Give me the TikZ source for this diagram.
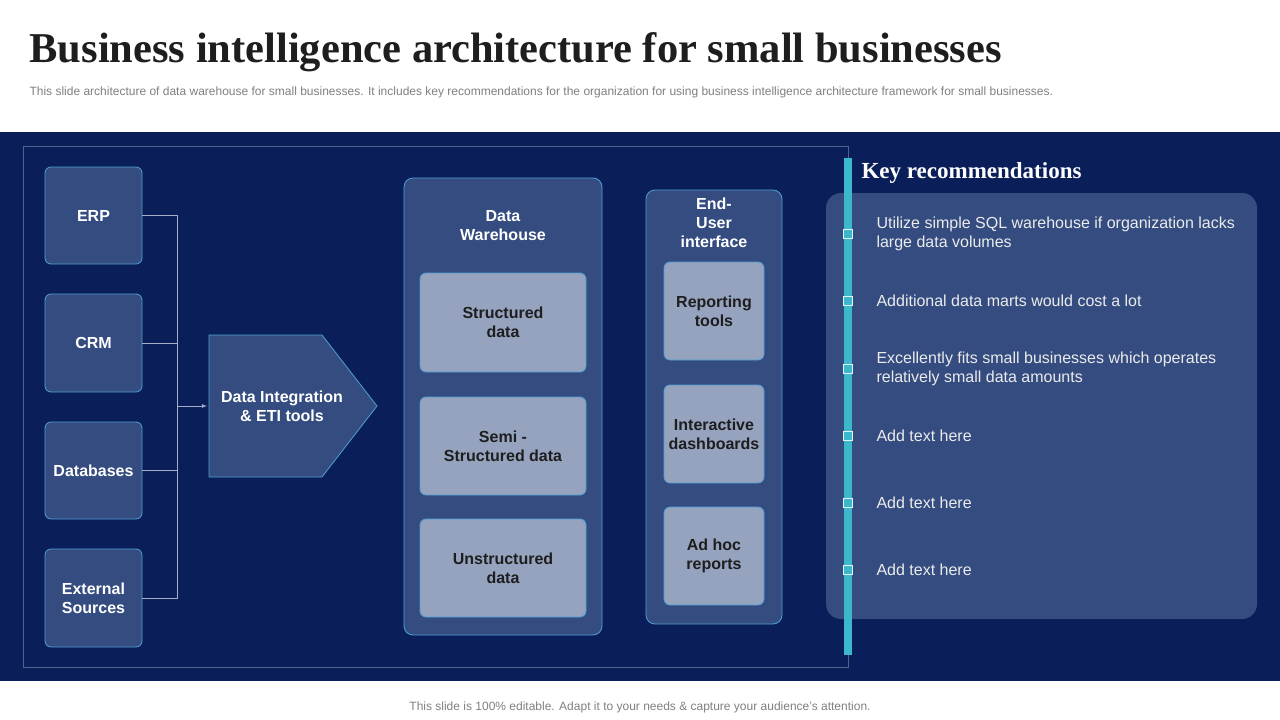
\documentclass[tikz,border=0pt]{standalone}
\usepackage{fontspec}
\setmainfont{Liberation Sans}
\newfontfamily\serifb{Liberation Serif}
\definecolor{bgdark}{HTML}{0A1F5A}
\definecolor{boxf}{HTML}{344C80}
\definecolor{innerf}{HTML}{95A3BF}
\definecolor{bordc}{HTML}{4E9FD3}
\definecolor{teal}{HTML}{3BB8CB}
\definecolor{txtd}{HTML}{1E1E1E}
\begin{document}
\begin{tikzpicture}[x=1pt,y=-1pt,
 src/.style={draw=bordc,fill=boxf,rounded corners=6pt,line width=0.8pt},
 inner/.style={draw=bordc,fill=innerf,rounded corners=6pt,line width=0.8pt},
 wt/.style={text=white,font=\bfseries\fontsize{16}{19}\selectfont,align=center},
 dt/.style={text=txtd,font=\bfseries\fontsize{16}{19}\selectfont,align=center},
 rt/.style={text=white!92!black,font=\fontsize{16}{19}\selectfont,align=left,anchor=west},
 lnk/.style={draw=white!55!boxf,line width=0.8pt},
 mk/.style={draw=white!85!teal,fill=teal,minimum size=9pt,inner sep=0pt,line width=0.8pt}]
\useasboundingbox (0,0) rectangle (1280,720);
\fill[white] (0,0) rectangle (1280,720);
\node[anchor=west,font=\serifb\bfseries\fontsize{42.5}{46}\selectfont,text=txtd] (title) at (26,52) {Business intelligence architecture for small businesses};
\node[anchor=west,font=\fontsize{12}{14}\selectfont,text=gray] (sub) at (26,92) {This slide architecture of data warehouse for small businesses. It includes key recommendations for the organization for using business intelligence architecture framework for small businesses.};
\fill[bgdark] (0,132) rectangle (1280,681);
\draw[draw=white!30!bgdark,line width=0.6pt] (23,146) rectangle (848,667);
% sources
\node[src,minimum width=97pt,minimum height=97pt] (erp) at (93.5,215.5) {};
\node[wt] at (erp) {ERP};
\node[src,minimum width=97pt,minimum height=98pt] (crm) at (93.5,343) {};
\node[wt] at (crm) {CRM};
\node[src,minimum width=97pt,minimum height=97pt] (db) at (93.5,470.5) {};
\node[wt] at (db) {Databases};
\node[src,minimum width=97pt,minimum height=98pt] (ext) at (93.5,598) {};
\node[wt] at (ext) {External\\Sources};
\coordinate (j) at (177,406);
\draw[lnk] (erp.east) -- ++(35,0) coordinate (t1) -- (t1 |- ext.east) -- (ext.east);
\draw[lnk] (crm.east) -- ++(35,0);
\draw[lnk] (db.east) -- ++(35,0);
% pentagon
\draw[src,rounded corners=0pt] (209,335) -- (322,335) -- (377,406) -- (322,477) -- (209,477) -- cycle;
\node[wt] (dit) at (282,406) {Data Integration\\\& ETI tools};
\draw[lnk,-latex] (j) -- (207,406);
% data warehouse
\node[src,minimum width=198pt,minimum height=457pt,rounded corners=9pt] (dw) at (503,406.5) {};
\node[wt] at (503,226) {Data\\Warehouse};
\node[inner,minimum width=166pt,minimum height=99pt] (s1) at (503,322.5) {};
\node[dt] at (s1) {Structured\\data};
\node[inner,minimum width=166pt,minimum height=98pt] (s2) at (503,446) {};
\node[dt] at (s2) {Semi -\\Structured data};
\node[inner,minimum width=166pt,minimum height=98pt] (s3) at (503,568) {};
\node[dt] at (s3) {Unstructured\\data};
% end user
\node[src,minimum width=136pt,minimum height=434pt,rounded corners=9pt] (eu) at (714,407) {};
\node[wt] at (714,223) {End-\\User\\interface};
\node[inner,minimum width=100pt,minimum height=98pt] (e1) at (714,311) {};
\node[dt] at (e1) {Reporting\\tools};
\node[inner,minimum width=100pt,minimum height=98pt] (e2) at (714,434) {};
\node[dt] at (e2) {Interactive\\dashboards};
\node[inner,minimum width=100pt,minimum height=98pt] (e3) at (714,556) {};
\node[dt] at (e3) {Ad hoc\\reports};
% recommendations
\fill[boxf,rounded corners=15pt] (826,193) rectangle (1257,619);
\fill[teal] (844,158) rectangle (852,655);
\node[anchor=west,font=\serifb\bfseries\fontsize{23}{26}\selectfont,text=white] (kr) at (858,173) {Key recommendations};
\foreach \yy/\t in {234/{Utilize simple SQL warehouse if organization lacks\\large data volumes},301/{Additional data marts would cost a lot},369/{Excellently fits small businesses which operates\\relatively small data amounts},436/{Add text here},503/{Add text here},570/{Add text here}}{
 \node[mk] at (848,\yy) {};
 \node[rt] at (873,\yy) {\t};
}
\node[font=\fontsize{12}{14}\selectfont,text=gray] (foot) at (640,707) {This slide is 100\% editable. Adapt it to your needs \& capture your audience’s attention.};
\end{tikzpicture}
\end{document}
